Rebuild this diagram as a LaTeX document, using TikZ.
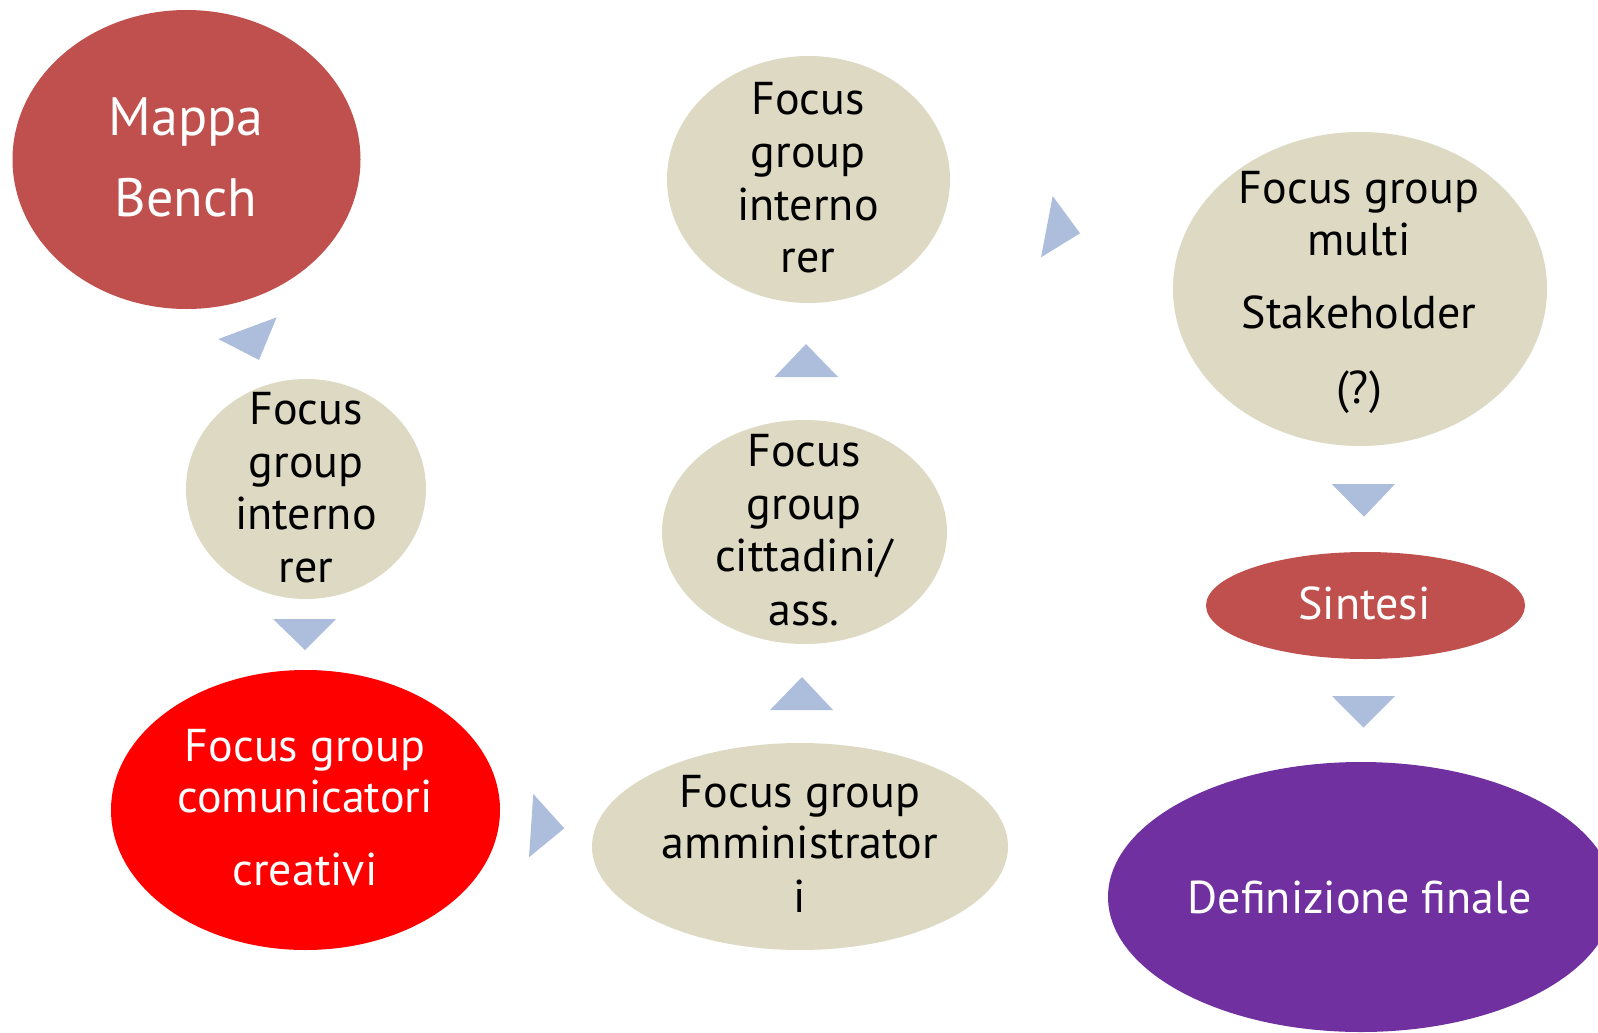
\documentclass[tikz,border=0pt]{standalone}
\usepackage{fontspec}
\setmainfont{PT Sans}
\usetikzlibrary{shapes.geometric}
\definecolor{brick}{HTML}{C0504D}
\definecolor{beige}{HTML}{DDD9C3}
\definecolor{purp}{HTML}{7030A0}
\definecolor{tri}{HTML}{ACBEDC}
\tikzset{
  oval/.style={ellipse, inner sep=0pt, draw=none},
  txt/.style={inner sep=0pt, font=\fontsize{46}{52}\selectfont, text=black,
    text height=32pt, text depth=0pt},
  wtxt/.style={txt, text=white},
  big/.style={font=\fontsize{54}{60}\selectfont, text height=38pt},
  arr/.style={fill=tri, draw=none},
}
\begin{document}
\begin{tikzpicture}[x=1pt,y=-1pt]
\useasboundingbox (0,0) rectangle (1598,1033);
\clip (0,0) rectangle (1598,1033);
% ellipses
\node[oval, fill=brick, minimum width=348, minimum height=299] (mappa) at (186.5,159.5) {};
\node[oval, fill=beige, minimum width=240, minimum height=220] (intL) at (306,489) {};
\node[oval, fill=red, minimum width=389, minimum height=280] (comu) at (305.5,810) {};
\node[oval, fill=beige, minimum width=416, minimum height=207] (ammi) at (800,846.5) {};
\node[oval, fill=beige, minimum width=285, minimum height=224] (citt) at (804.5,532) {};
\node[oval, fill=beige, minimum width=283, minimum height=247] (intT) at (808.5,179.5) {};
\node[oval, fill=beige, minimum width=374, minimum height=314] (multi) at (1360,289) {};
\node[oval, fill=brick, minimum width=319, minimum height=107] (sint) at (1365.5,605.5) {};
\node[oval, fill=purp, minimum width=506, minimum height=270] (defi) at (1361,897) {};
% texts
\node[wtxt, big] (t1a) at (186,116) {Mappa};
\node[wtxt, big] (t1b) at (186,197) {Bench};
\node[txt] (t2a) at (306,408) {Focus};
\node[txt] (t2b) at (306,461) {group};
\node[txt] (t2c) at (306,513) {interno};
\node[txt] (t2d) at (306,566) {rer};
\node[wtxt] (t3a) at (305,745) {Focus group};
\node[wtxt] (t3b) at (305,796) {comunicatori};
\node[wtxt] (t3c) at (305,869) {creativi};
\node[txt] (t4a) at (800,791) {Focus group};
\node[txt] (t4b) at (800,842) {amministrator};
\node[txt] (t4c) at (800,896) {i};
\node[txt] (t5a) at (804,450) {Focus};
\node[txt] (t5b) at (804,503) {group};
\node[txt] (t5c) at (804,555) {cittadini/};
\node[txt] (t5d) at (804,609) {ass.};
\node[txt] (t6a) at (808,98) {Focus};
\node[txt] (t6b) at (808,151) {group};
\node[txt] (t6c) at (808,204) {interno};
\node[txt] (t6d) at (808,256) {rer};
\node[txt] (t7a) at (1359,187.5) {Focus group};
\node[txt] (t7b) at (1359,239.5) {multi};
\node[txt] (t7c) at (1359,312) {Stakeholder};
\node[txt] (t7d) at (1359,387) {(?)};
\node[wtxt] (t8) at (1364.5,603) {Sintesi};
\node[wtxt] (t9) at (1359.5,897) {Definizione finale};
% arrow triangles
\fill[arr] (218.3,339) -- (276.7,317.3) -- (259,360) -- cycle;
\fill[arr] (273,619) -- (336,619) -- (305,650) -- cycle;
\fill[arr] (533.3,794) -- (564.3,828.3) -- (529,857.3) -- cycle;
\fill[arr] (770,710) -- (833,710) -- (802,677) -- cycle;
\fill[arr] (774.5,377) -- (838,377) -- (806,344) -- cycle;
\fill[arr] (1052.7,196) -- (1080,233.3) -- (1041,257.3) -- cycle;
\fill[arr] (1331.7,484) -- (1395,484) -- (1364,516.7) -- cycle;
\fill[arr] (1332,696) -- (1395,696) -- (1363.5,727.6) -- cycle;
\end{tikzpicture}
\end{document}
